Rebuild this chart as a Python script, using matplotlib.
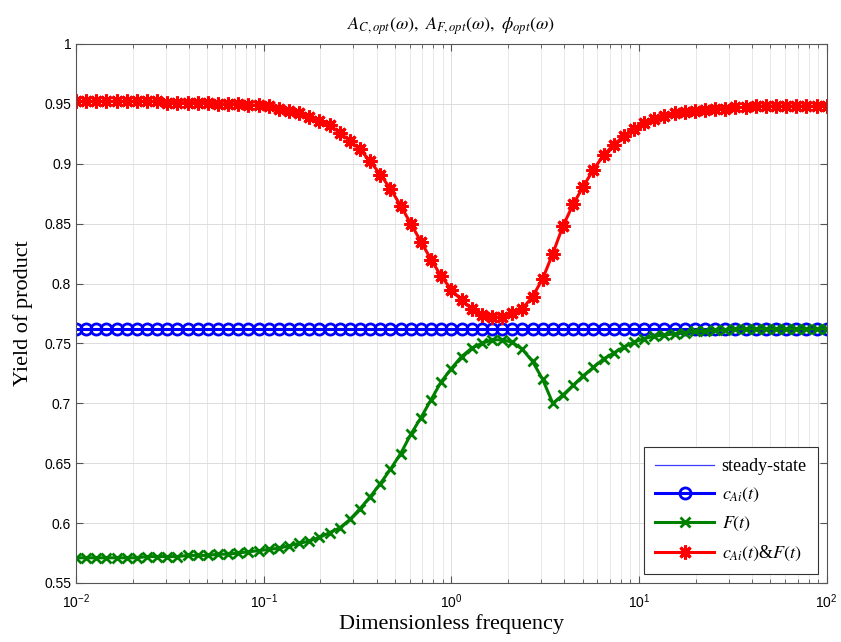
import numpy as np
import matplotlib
matplotlib.use("Agg")
import matplotlib.pyplot as plt
from matplotlib.ticker import LogLocator, NullFormatter

plt.rcParams['font.family'] = ['Liberation Sans', 'DejaVu Sans']
plt.rcParams['mathtext.fontset'] = 'stix'

# 75 frequency points, evenly spaced on the log axis from 1e-2 to 1e2
n_points = 75
omega = np.logspace(-2, 2, n_points)

steady = [0.762] * n_points
c_ai = [0.762] * n_points

flow = [0.571, 0.571, 0.571, 0.571, 0.571, 0.571, 0.571, 0.572, 0.572, 0.572,
        0.572, 0.573, 0.573, 0.573, 0.574, 0.574, 0.575, 0.576, 0.577, 0.578,
        0.579, 0.581, 0.583, 0.585, 0.588, 0.592, 0.596, 0.603, 0.612, 0.622,
        0.633, 0.645, 0.658, 0.674, 0.688, 0.703, 0.718, 0.729, 0.739, 0.746,
        0.750, 0.753, 0.753, 0.751, 0.745, 0.735, 0.720, 0.700, 0.707, 0.715,
        0.723, 0.730, 0.737, 0.742, 0.747, 0.751, 0.754, 0.756, 0.757, 0.758,
        0.759, 0.760, 0.760, 0.761, 0.761, 0.762, 0.762, 0.762, 0.762, 0.762,
        0.762, 0.762, 0.762, 0.762, 0.762]

both = [0.952, 0.952, 0.952, 0.952, 0.952, 0.952, 0.952, 0.952, 0.952, 0.951,
        0.951, 0.951, 0.951, 0.951, 0.950, 0.950, 0.950, 0.949, 0.949, 0.948,
        0.946, 0.944, 0.942, 0.939, 0.936, 0.932, 0.926, 0.919, 0.912, 0.902,
        0.891, 0.879, 0.865, 0.850, 0.835, 0.820, 0.806, 0.795, 0.786, 0.779,
        0.774, 0.772, 0.772, 0.775, 0.779, 0.789, 0.804, 0.825, 0.848, 0.866,
        0.881, 0.895, 0.907, 0.916, 0.923, 0.929, 0.934, 0.937, 0.940, 0.942,
        0.943, 0.944, 0.945, 0.946, 0.946, 0.947, 0.947, 0.948, 0.948, 0.948,
        0.948, 0.948, 0.948, 0.948, 0.948]

y_ticks = [0.55, 0.6, 0.65, 0.7, 0.75, 0.8, 0.85, 0.9, 0.95, 1.0]
y_tick_labels = ['0.55', '0.6', '0.65', '0.7', '0.75', '0.8', '0.85', '0.9', '0.95', '1']

fig = plt.figure(figsize=(8.41, 6.42), dpi=100)
ax = fig.add_axes([0.0904, 0.092, 0.8926, 0.8395])

ax.plot(omega, steady, color='#3a3aff', lw=0.9, label='steady-state')
ax.plot(omega, c_ai, color='blue', lw=2.2, marker='o', ms=8, mew=2,
        mfc='none', label=r'$c_{Ai}(t)$')
ax.plot(omega, flow, color='green', lw=2.2, marker='x', ms=7, mew=2,
        label=r'$F(t)$')
ax.plot(omega, both, color='red', lw=2.2, marker=(8, 2, 0), ms=10, mew=2.2,
        label=r'$c_{Ai}(t)$&$F(t)$')

ax.set_xscale('log')
ax.set_xlim(1e-2, 1e2)
ax.set_ylim(0.55, 1.0)
ax.set_yticks(y_ticks)
ax.set_yticklabels(y_tick_labels)
ax.xaxis.set_minor_locator(LogLocator(base=10, subs=np.arange(2, 10), numticks=20))
ax.xaxis.set_minor_formatter(NullFormatter())

ax.grid(True, which='major', color='#dcdcdc', lw=0.7)
ax.grid(True, which='minor', axis='x', color='#e4e4e4', lw=0.6)
ax.set_axisbelow(True)

ax.tick_params(which='both', direction='in', top=True, right=True,
               labelsize=10, color='#555555')
ax.tick_params(which='major', length=5)
ax.tick_params(which='minor', length=3)
ax.tick_params(axis='x', pad=7)
for s in ax.spines.values():
    s.set_color('#555555')
    s.set_linewidth(0.8)

serif = ['Liberation Serif', 'DejaVu Serif']
ax.set_xlabel('Dimensionless frequency', fontsize=16, family=serif, labelpad=2)
ax.set_ylabel('Yield of product', fontsize=16, family=serif, labelpad=8)
ax.set_title(r'$A_{C,opt}(\omega),\ A_{F,opt}(\omega),\ \phi_{opt}(\omega)$',
             fontsize=13, pad=10)

leg = ax.legend(loc='lower right', prop={'family': serif, 'size': 13},
                fancybox=False, framealpha=1, edgecolor='#333333',
                borderaxespad=0.5, handlelength=3.3, handletextpad=0.4,
                labelspacing=0.6, borderpad=0.6)
leg.get_frame().set_linewidth(0.8)

fig.savefig('out.png', dpi=100)
